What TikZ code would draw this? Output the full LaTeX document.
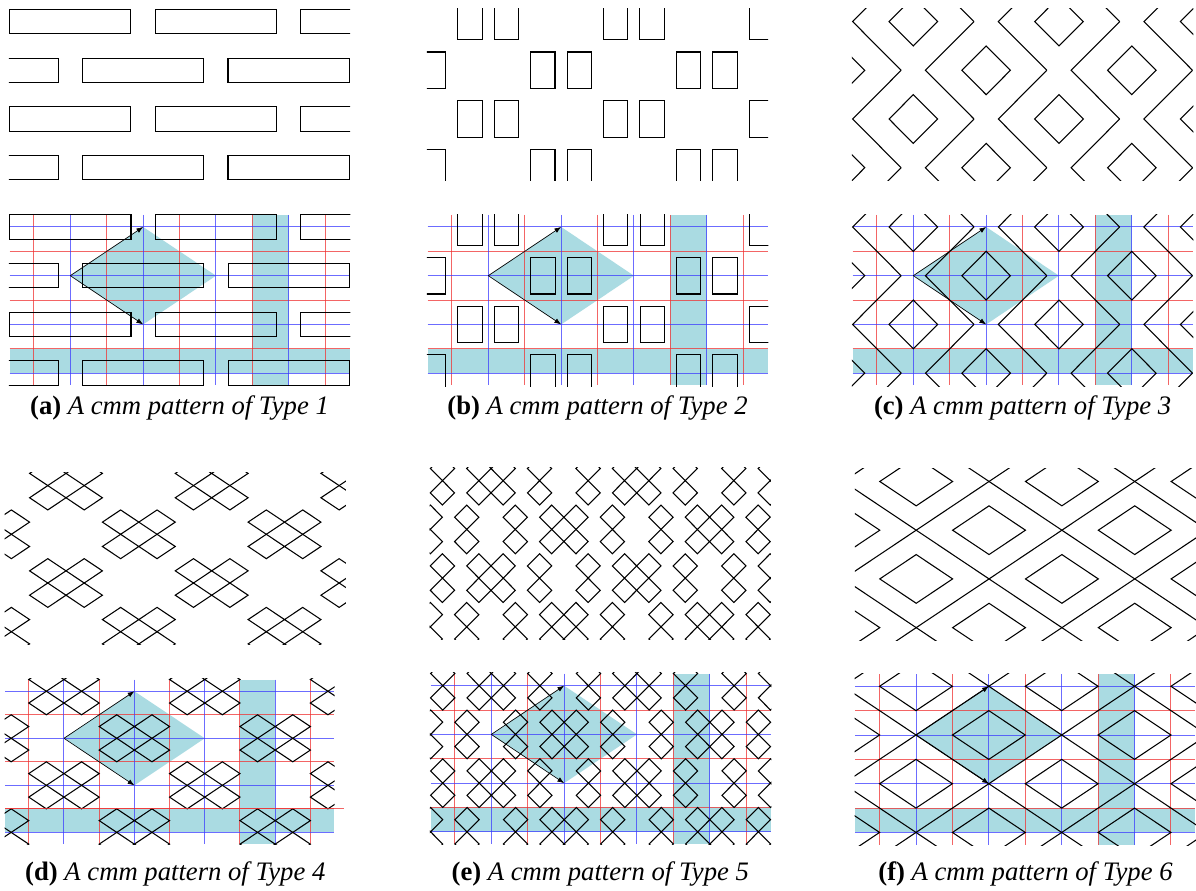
\documentclass[tikz,border=0pt]{standalone}
\usepackage{fontspec}
\setmainfont{Liberation Serif}
\usetikzlibrary{arrows.meta}
\definecolor{fillc}{RGB}{170,219,226}
\definecolor{gridblue}{RGB}{60,60,255}
\definecolor{gridred}{RGB}{240,50,50}
\tikzset{
  pat/.style={line width=0.8pt, draw=black},
  bl/.style={draw=gridblue, line width=0.75pt, draw opacity=0.75},
  rd/.style={draw=gridred, line width=0.75pt, draw opacity=0.75},
  arr/.style={line width=0.5pt, draw=black, -{Latex[length=5pt,width=3.8pt]}},
  captext/.style={font=\fontsize{20}{24}\selectfont, anchor=base, inner sep=0pt},
}
\newcommand\forpts[2]{%
  \foreach \k in {-2,...,4}{\foreach \j in {-1,...,4}{%
    \pgfmathtruncatemacro\pp{mod(\k+\j+10,2)}%
    \ifnum\pp=#1\relax
      \pgfmathsetmacro\cx{5+6*\k}\pgfmathsetmacro\cy{1+4*\j}%
      #2%
    \fi}}}
\newcommand\dia[4]{\draw[pat] (#1-#3,#2)--(#1,#2-#4)--(#1+#3,#2)--(#1,#2+#4)--cycle;}
\newcommand\patA{\forpts{0}{\draw[pat] (\cx-5,\cy-1) rectangle (\cx+5,\cy+1);}}
\newcommand\patB{\forpts{0}{\draw[pat] (\cx-2.5,\cy-1.5) rectangle (\cx-0.5,\cy+1.5);\draw[pat] (\cx+0.5,\cy-1.5) rectangle (\cx+2.5,\cy+1.5);}}
\newcommand\patC{\forpts{0}{\dia{\cx}{\cy}{2}{2}}\forpts{1}{\draw[pat] (\cx+5,\cy-4)--(\cx+1,\cy)--(\cx+5,\cy+4);}}
\newcommand\patD{\forpts{0}{\dia{\cx-1.5}{\cy-1}{1.5}{1}\dia{\cx+1.5}{\cy-1}{1.5}{1}\dia{\cx-1.5}{\cy+1}{1.5}{1}\dia{\cx+1.5}{\cy+1}{1.5}{1}}}
\newcommand\patE{\forpts{0}{\dia{\cx-4}{\cy-1}{1}{1}\dia{\cx-4}{\cy+1}{1}{1}\dia{\cx-1}{\cy-1}{1}{1}\dia{\cx-1}{\cy+1}{1}{1}\dia{\cx+1}{\cy-1}{1}{1}\dia{\cx+1}{\cy+1}{1}{1}\dia{\cx+4}{\cy-1}{1}{1}\dia{\cx+4}{\cy+1}{1}{1}}}
\newcommand\patF{\forpts{0}{\dia{\cx}{\cy}{3}{2}}\foreach \m in {-3,...,3}{\draw[pat] (12*\m-25,-15)--(12*\m+35,25);\draw[pat] (12*\m-25,25)--(12*\m+35,-15);}}
\newcommand\toppanel[3]{%
  \begin{scope}[shift={(#1,#2)}, x={(9.105pt,0pt)}, y={(0pt,-9.135pt)}]
    \clip (-0.06,-0.06) rectangle (28.06,14.06);
    #3
  \end{scope}}
\newcommand\botpanel[7]{%
  \begin{scope}[shift={(#1,#2)}, x={(#5,0pt)}, y={(0pt,-#6)}]
    \coordinate (#4L) at (5,5);
    \coordinate (#4T) at (11,1);
    \coordinate (#4R) at (17,5);
    \coordinate (#4B) at (11,9);
    \begin{scope}
      \clip (-0.06,-0.06) rectangle (28.06,14.06);
      \fill[fillc] (#4L) -- (#4T) -- (#4R) -- (#4B) -- cycle;
      \fill[fillc] (20,0) rectangle (23,14);
      \fill[fillc] (0,11) rectangle (28,13);
      \foreach \uu in {2,8,14,20,26} \draw[rd] (\uu,0) -- (\uu,14);
      \foreach \vv in {3,7,11} \draw[rd] (0,\vv) -- (28,\vv);
      \foreach \uu in {5,11,17,23} \draw[bl] (\uu,0) -- (\uu,14);
      \foreach \vv in {1,5,9,13} \draw[bl] (0,\vv) -- (28,\vv);
      #3
    \end{scope}
    #7
    \draw[arr] (#4L) -- (#4T);
    \draw[arr] (#4L) -- (#4B);
  \end{scope}}
\begin{document}
\begin{tikzpicture}[x=0.75pt,y=-0.75pt]
\fill[white] (0,0) rectangle (1196,891);
\useasboundingbox (0,0) rectangle (1196,891);
\toppanel{9.5}{9.4}{\patA}
\botpanel{9.6}{214.8}{\patA}{a}{9.105pt}{9.135pt}{}
\toppanel{427.5}{9.4}{\patB}
\botpanel{427.6}{214.8}{\patB}{b}{9.105pt}{9.135pt}{}
\toppanel{852.6}{9.4}{\patC}
\botpanel{852.6}{214.8}{\patC}{c}{9.105pt}{9.135pt}{}
\toppanel{5.3}{473.4}{\patD}
\botpanel{5.3}{679.5}{\patD}{d}{8.80pt}{8.82pt}{\draw[rd] (0,11) -- (28.9,11);}
\toppanel{430.3}{468.5}{\patE}
\botpanel{430.6}{673.5}{\patE}{e}{9.105pt}{9.135pt}{}
\toppanel{855.5}{469.3}{\patF}
\botpanel{855.3}{674.1}{\patF}{f}{9.105pt}{9.135pt}{}
\node[captext] (capa) at (179.5,414) {\textbf{(a)} \textit{A cmm pattern of Type 1}};
\node[captext] (capb) at (597.5,414) {\textbf{(b)} \textit{A cmm pattern of Type 2}};
\node[captext] (capc) at (1022.6,414) {\textbf{(c)} \textit{A cmm pattern of Type 3}};
\node[captext] (capd) at (175.3,880) {\textbf{(d)} \textit{A cmm pattern of Type 4}};
\node[captext] (cape) at (600.3,880) {\textbf{(e)} \textit{A cmm pattern of Type 5}};
\node[captext] (capf) at (1025.5,880) {\textbf{(f)} \textit{A cmm pattern of Type 6}};
\end{tikzpicture}
\end{document}
